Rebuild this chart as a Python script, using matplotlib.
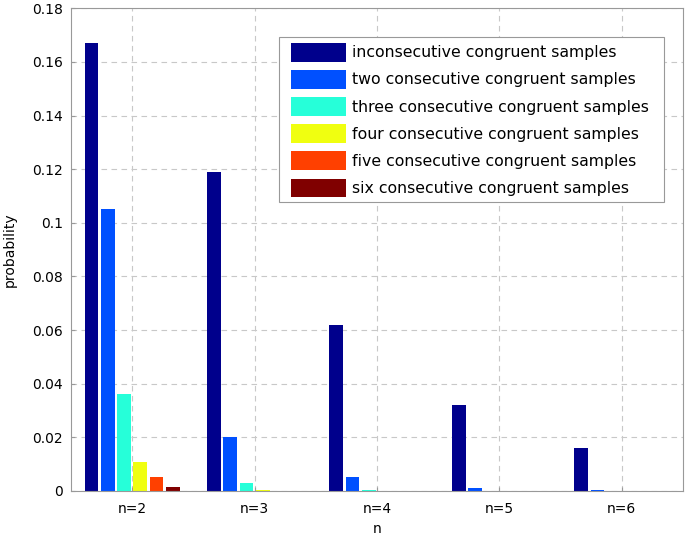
import matplotlib
matplotlib.use('Agg')
import matplotlib.pyplot as plt
from matplotlib.patches import Rectangle
import numpy as np

groups = ['n=2', 'n=3', 'n=4', 'n=5', 'n=6']
labels = ['inconsecutive congruent samples',
          'two consecutive congruent samples',
          'three consecutive congruent samples',
          'four consecutive congruent samples',
          'five consecutive congruent samples',
          'six consecutive congruent samples']
inconsecutive = [0.167, 0.119, 0.062, 0.032, 0.0162]
two_consec = [0.105, 0.020, 0.0052, 0.0011, 0.0005]
three_consec = [0.036, 0.003, 0.0005, 0.0, 0.0]
four_consec = [0.0109, 0.0004, 0.0, 0.0, 0.0]
five_consec = [0.0051, 0.0, 0.0, 0.0, 0.0]
six_consec = [0.0014, 0.0, 0.0, 0.0, 0.0]
series = [inconsecutive, two_consec, three_consec, four_consec, five_consec, six_consec]
colors = ['#00008c', '#0050ff', '#26ffd9', '#f0ff10', '#ff4000', '#800000']

fig = plt.figure(figsize=(6.85, 5.38), dpi=100)
ax = fig.add_axes([71/685, 1 - 491/538, (683 - 71)/685, (491 - 8.3)/538])

x = np.arange(1, len(groups) + 1)
step = 0.133
w = 0.112
for i, (vals, c, lab) in enumerate(zip(series, colors, labels)):
    ax.bar(x + (i - 2.5) * step, vals, width=w, color=c, label=lab, edgecolor='none')

ax.set_xlim(0.5, 5.5)
ax.set_ylim(0, 0.18)
ax.set_xticks(x)
ax.set_xticklabels(groups)
ax.set_yticks(np.arange(0, 0.181, 0.02))
ax.set_yticklabels(['0', '0.02', '0.04', '0.06', '0.08', '0.1', '0.12', '0.14', '0.16', '0.18'])
ax.tick_params(direction='in', length=3, color='#999999', labelsize=10, pad=6)
ax.tick_params(axis='x', pad=8)
ax.grid(True, color='#c8c8c8', linestyle=(0, (5, 4)), linewidth=0.8)
ax.set_axisbelow(True)
for s in ax.spines.values():
    s.set_color('#999999')
    s.set_linewidth(0.8)

ax.set_xlabel('n', fontsize=10, labelpad=4)
ax.set_ylabel('probability', fontsize=10, labelpad=11)

# legend box drawn by hand so the padding can differ in x and y
box = Rectangle((0.3404, 0.5993), 0.969 - 0.3404, 0.9412 - 0.5993, transform=ax.transAxes,
                facecolor='white', edgecolor='#999999', linewidth=0.8, zorder=4)
ax.add_patch(box)
leg = ax.legend(loc='upper left', bbox_to_anchor=(0.359, 0.9287), borderaxespad=0,
                fontsize=11.3, handlelength=3.55, handleheight=1.47, labelspacing=0.53,
                handletextpad=0.38, borderpad=0, frameon=False)
leg.set_zorder(5)

fig.savefig('out.png', dpi=100)
